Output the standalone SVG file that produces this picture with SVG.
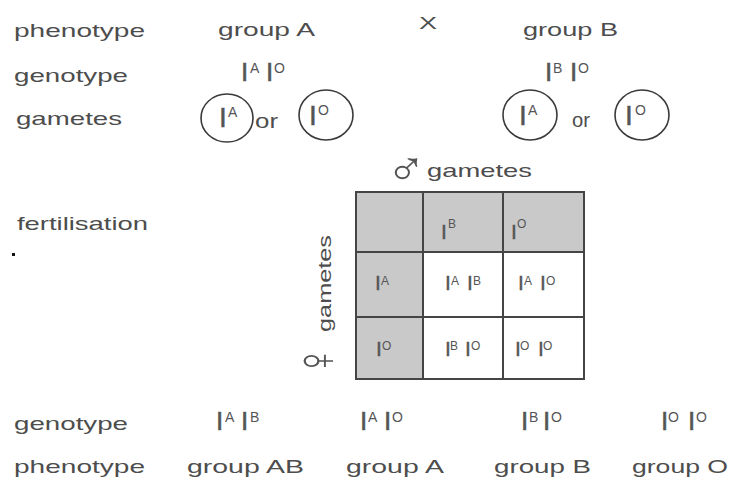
<svg xmlns="http://www.w3.org/2000/svg" width="730" height="481" viewBox="0 0 730 481">
<style>
text{font-family:"Liberation Sans",Arial,sans-serif;fill:#4d4d4d}
.lbl{font-size:19px}
.I{font-size:26px;fill:#555;stroke:#555;stroke-width:0.5}
.Ic{font-size:28px;fill:#555;stroke:#555;stroke-width:0.5}
.Ig{font-size:21px;fill:#555;stroke:#555;stroke-width:0.4}
.sup{font-size:14px;fill:#555}
.supg{font-size:12px;fill:#555}
.sym{fill:#555}
.gam{fill:none;stroke:#3a3a3a;stroke-width:1.6}
.hdr{fill:#c9c9c9}
.grid{stroke:#454545;stroke-width:2;fill:none}
</style>
<rect width="730" height="481" fill="#fff"/>
<g id="row-labels">
<text class="lbl" x="14" y="37" textLength="131" lengthAdjust="spacingAndGlyphs">phenotype</text>
<text class="lbl" x="14" y="82" textLength="114" lengthAdjust="spacingAndGlyphs">genotype</text>
<text class="lbl" x="16" y="125" textLength="106" lengthAdjust="spacingAndGlyphs">gametes</text>
<text class="lbl" x="17" y="230" textLength="131" lengthAdjust="spacingAndGlyphs">fertilisation</text>
<rect x="12" y="253" width="3" height="3" fill="#111"/>
<text class="lbl" x="14" y="430" textLength="114" lengthAdjust="spacingAndGlyphs">genotype</text>
<text class="lbl" x="14" y="473" textLength="131" lengthAdjust="spacingAndGlyphs">phenotype</text>
</g>
<g id="parent-A">
<text class="lbl" x="218" y="36" textLength="97" lengthAdjust="spacingAndGlyphs">group A</text>
<text><tspan class="I" x="241" y="81">I</tspan><tspan class="sup" x="250" y="73">A</tspan><tspan class="I" x="266" y="81">I</tspan><tspan class="sup" x="274" y="73">O</tspan></text>
</g>
<g id="cross">
<text x="419" y="29" font-size="16" textLength="18" lengthAdjust="spacingAndGlyphs">X</text>
</g>
<g id="parent-B">
<text class="lbl" x="523" y="36" textLength="95" lengthAdjust="spacingAndGlyphs">group B</text>
<text><tspan class="I" x="545" y="81">I</tspan><tspan class="sup" x="553" y="73">B</tspan><tspan class="I" x="570" y="81">I</tspan><tspan class="sup" x="578" y="73">O</tspan></text>
</g>
<g id="gametes-A">
<ellipse class="gam" cx="227" cy="118" rx="26" ry="24"/>
<text><tspan class="Ic" x="219" y="127">I</tspan><tspan class="sup" x="228" y="117">A</tspan></text>
<text x="255" y="128" font-size="20" textLength="23" lengthAdjust="spacingAndGlyphs">or</text>
<ellipse class="gam" cx="326" cy="115" rx="27" ry="25"/>
<text><tspan class="Ic" x="309" y="125">I</tspan><tspan class="sup" x="318" y="115">O</tspan></text>
</g>
<g id="gametes-B">
<ellipse class="gam" cx="530" cy="115" rx="27" ry="25"/>
<text><tspan class="Ic" x="519" y="125">I</tspan><tspan class="sup" x="528" y="115">A</tspan></text>
<text x="572" y="127" font-size="20" textLength="18" lengthAdjust="spacingAndGlyphs">or</text>
<ellipse class="gam" cx="642" cy="115" rx="27" ry="25"/>
<text><tspan class="Ic" x="625" y="125">I</tspan><tspan class="sup" x="635" y="115">O</tspan></text>
</g>
<g id="punnett-square">
<rect class="hdr" x="356" y="192" width="228" height="60"/>
<rect class="hdr" x="356" y="252" width="67" height="127"/>
<path class="grid" d="M356 192H584V379H356Z M423 192V379 M503 192V379 M356 252H584 M356 317H584"/>
<g id="male-gametes-label">
<text class="sym" x="386" y="185" font-size="48" textLength="40" lengthAdjust="spacingAndGlyphs">♂</text>
<text class="lbl" x="427" y="177" textLength="105" lengthAdjust="spacingAndGlyphs">gametes</text>
</g>
<g id="female-gametes-label" transform="rotate(-90)">
<text class="sym" x="-377" y="335" font-size="56" textLength="32" lengthAdjust="spacingAndGlyphs">♀</text>
<text class="lbl" x="-332" y="331" textLength="97" lengthAdjust="spacingAndGlyphs">gametes</text>
</g>
<g id="cell-h-B"><text><tspan class="Ig" x="441" y="239">I</tspan><tspan class="supg" x="448" y="228">B</tspan></text></g>
<g id="cell-h-O"><text><tspan class="Ig" x="511" y="239">I</tspan><tspan class="supg" x="517" y="228">O</tspan></text></g>
<g id="cell-v-A"><text><tspan class="Ig" x="375" y="290">I</tspan><tspan class="supg" x="381" y="285">A</tspan></text></g>
<g id="cell-v-O"><text><tspan class="Ig" x="376" y="356">I</tspan><tspan class="supg" x="382" y="350">O</tspan></text></g>
<g id="cell-AB"><text><tspan class="Ig" x="445" y="290">I</tspan><tspan class="supg" x="451" y="285">A</tspan><tspan class="Ig" x="467" y="290">I</tspan><tspan class="supg" x="473" y="285">B</tspan></text></g>
<g id="cell-AO"><text><tspan class="Ig" x="518" y="290">I</tspan><tspan class="supg" x="524" y="285">A</tspan><tspan class="Ig" x="540" y="290">I</tspan><tspan class="supg" x="546" y="285">O</tspan></text></g>
<g id="cell-BO"><text><tspan class="Ig" x="445" y="356">I</tspan><tspan class="supg" x="450" y="350">B</tspan><tspan class="Ig" x="465" y="356">I</tspan><tspan class="supg" x="471" y="350">O</tspan></text></g>
<g id="cell-OO"><text><tspan class="Ig" x="515" y="356">I</tspan><tspan class="supg" x="520" y="350">O</tspan><tspan class="Ig" x="538" y="356">I</tspan><tspan class="supg" x="543" y="350">O</tspan></text></g>
</g>
<g id="offspring-AB">
<text><tspan class="I" x="216" y="430">I</tspan><tspan class="sup" x="225" y="422">A</tspan><tspan class="I" x="241" y="430">I</tspan><tspan class="sup" x="250" y="422">B</tspan></text>
<text class="lbl" x="187" y="473" textLength="117" lengthAdjust="spacingAndGlyphs">group AB</text>
</g>
<g id="offspring-A">
<text><tspan class="I" x="360" y="430">I</tspan><tspan class="sup" x="368" y="422">A</tspan><tspan class="I" x="384" y="430">I</tspan><tspan class="sup" x="392" y="422">O</tspan></text>
<text class="lbl" x="346" y="473" textLength="98" lengthAdjust="spacingAndGlyphs">group A</text>
</g>
<g id="offspring-B">
<text><tspan class="I" x="521" y="430">I</tspan><tspan class="sup" x="529" y="422">B</tspan><tspan class="I" x="543" y="430">I</tspan><tspan class="sup" x="551" y="422">O</tspan></text>
<text class="lbl" x="494" y="473" textLength="97" lengthAdjust="spacingAndGlyphs">group B</text>
</g>
<g id="offspring-O">
<text><tspan class="I" x="661" y="430">I</tspan><tspan class="sup" x="668" y="422">O</tspan><tspan class="I" x="688" y="430">I</tspan><tspan class="sup" x="696" y="422">O</tspan></text>
<text class="lbl" x="632" y="473" textLength="96" lengthAdjust="spacingAndGlyphs">group O</text>
</g>
<g id="connectors"></g>
</svg>
